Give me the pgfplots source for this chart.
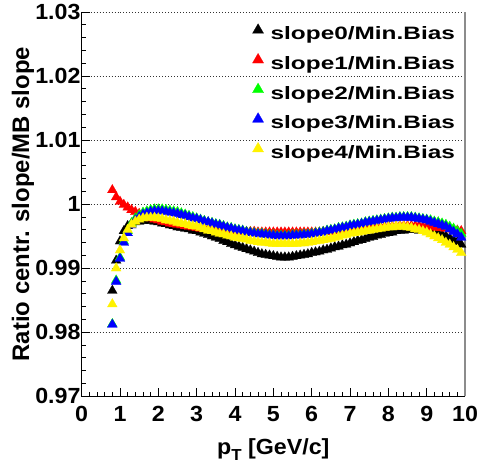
\documentclass[border=0pt]{standalone}
\usepackage{pgfplots}
\pgfplotsset{compat=1.18}
\usepackage{pgfplotstable}
\usepackage{fontspec}
\setmainfont{Liberation Sans}
\newfontfamily\tickfont{Liberation Sans}[FakeStretch=1.06]
\newfontfamily\legfont{Liberation Sans}[FakeStretch=1.36]

\pgfplotstableread{
pt  s0     s1     s2     s3     s4
0.8 0.9865 1.0022 0.9813 0.9812 0.9844
0.9 0.9912 1.0011 0.9881 0.9879 0.9900
1.0 0.9942 1.0004 0.9917 0.9915 0.9928
1.1 0.9958 0.9999 0.9942 0.9940 0.9947
1.2 0.9966 0.9995 0.9958 0.9955 0.9960
1.3 0.9970 0.9991 0.9970 0.9967 0.9968
1.4 0.9972 0.9988 0.9978 0.9975 0.9973
1.5 0.9973 0.9985 0.9983 0.9980 0.9976
1.6 0.9974 0.9982 0.9987 0.9984 0.9978
1.7 0.9974 0.9980 0.9989 0.9986 0.9979
1.8 0.9974 0.9978 0.9991 0.9988 0.9979
1.9 0.9973 0.9976 0.9992 0.9989 0.9979
2.0 0.9972 0.9975 0.9992 0.9989 0.9978
2.1 0.9970 0.9973 0.9992 0.9989 0.9977
2.2 0.9969 0.9972 0.9991 0.9988 0.9975
2.3 0.9967 0.9970 0.9990 0.9987 0.9974
2.4 0.9966 0.9969 0.9989 0.9986 0.9973
2.5 0.9964 0.9968 0.9988 0.9985 0.9971
2.6 0.9963 0.9967 0.9986 0.9983 0.9970
2.7 0.9962 0.9966 0.9984 0.9982 0.9969
2.8 0.9961 0.9965 0.9982 0.9980 0.9967
2.9 0.9959 0.9964 0.9980 0.9978 0.9966
3.0 0.9958 0.9963 0.9978 0.9977 0.9965
3.1 0.9956 0.9962 0.9976 0.9975 0.9963
3.2 0.9954 0.9962 0.9974 0.9973 0.9961
3.3 0.9952 0.9961 0.9972 0.9972 0.9959
3.4 0.9950 0.9960 0.9971 0.9970 0.9958
3.5 0.9948 0.9960 0.9969 0.9968 0.9956
3.6 0.9946 0.9959 0.9968 0.9967 0.9954
3.7 0.9943 0.9959 0.9966 0.9965 0.9953
3.8 0.9941 0.9958 0.9964 0.9963 0.9951
3.9 0.9938 0.9958 0.9963 0.9962 0.9950
4.0 0.9936 0.9958 0.9961 0.9960 0.9948
4.1 0.9934 0.9957 0.9960 0.9959 0.9947
4.2 0.9932 0.9957 0.9959 0.9958 0.9946
4.3 0.9930 0.9957 0.9957 0.9956 0.9945
4.4 0.9928 0.9957 0.9956 0.9955 0.9943
4.5 0.9926 0.9957 0.9955 0.9954 0.9942
4.6 0.9924 0.9956 0.9954 0.9953 0.9941
4.7 0.9922 0.9956 0.9954 0.9953 0.9940
4.8 0.9921 0.9956 0.9953 0.9952 0.9940
4.9 0.9920 0.9956 0.9952 0.9951 0.9939
5.0 0.9919 0.9956 0.9952 0.9951 0.9938
5.1 0.9918 0.9956 0.9951 0.9950 0.9938
5.2 0.9917 0.9956 0.9951 0.9950 0.9938
5.3 0.9917 0.9956 0.9951 0.9950 0.9938
5.4 0.9917 0.9956 0.9951 0.9950 0.9938
5.5 0.9918 0.9956 0.9952 0.9951 0.9938
5.6 0.9919 0.9956 0.9952 0.9951 0.9938
5.7 0.9920 0.9956 0.9952 0.9951 0.9939
5.8 0.9921 0.9956 0.9953 0.9952 0.9939
5.9 0.9922 0.9956 0.9953 0.9952 0.9940
6.0 0.9924 0.9956 0.9954 0.9953 0.9941
6.1 0.9925 0.9956 0.9955 0.9954 0.9942
6.2 0.9926 0.9956 0.9956 0.9955 0.9943
6.3 0.9928 0.9957 0.9957 0.9956 0.9944
6.4 0.9929 0.9957 0.9959 0.9958 0.9945
6.5 0.9931 0.9957 0.9960 0.9959 0.9946
6.6 0.9933 0.9958 0.9961 0.9960 0.9948
6.7 0.9934 0.9958 0.9963 0.9962 0.9949
6.8 0.9936 0.9958 0.9964 0.9963 0.9951
6.9 0.9937 0.9959 0.9965 0.9964 0.9952
7.0 0.9939 0.9959 0.9967 0.9966 0.9954
7.1 0.9941 0.9960 0.9968 0.9967 0.9955
7.2 0.9943 0.9960 0.9969 0.9968 0.9956
7.3 0.9944 0.9961 0.9970 0.9969 0.9957
7.4 0.9946 0.9961 0.9972 0.9971 0.9958
7.5 0.9948 0.9962 0.9973 0.9972 0.9959
7.6 0.9949 0.9963 0.9974 0.9973 0.9960
7.7 0.9951 0.9963 0.9975 0.9974 0.9961
7.8 0.9952 0.9964 0.9976 0.9975 0.9962
7.9 0.9954 0.9964 0.9977 0.9976 0.9963
8.0 0.9955 0.9965 0.9978 0.9977 0.9964
8.1 0.9956 0.9965 0.9979 0.9978 0.9964
8.2 0.9958 0.9965 0.9979 0.9978 0.9965
8.3 0.9959 0.9966 0.9980 0.9979 0.9965
8.4 0.9959 0.9966 0.9980 0.9979 0.9965
8.5 0.9960 0.9966 0.9980 0.9979 0.9964
8.6 0.9960 0.9966 0.9980 0.9979 0.9963
8.7 0.9960 0.9966 0.9979 0.9978 0.9961
8.8 0.9959 0.9966 0.9978 0.9977 0.9960
8.9 0.9959 0.9965 0.9977 0.9976 0.9958
9.0 0.9958 0.9965 0.9976 0.9975 0.9956
9.1 0.9957 0.9964 0.9975 0.9973 0.9953
9.2 0.9955 0.9964 0.9973 0.9971 0.9950
9.3 0.9954 0.9963 0.9972 0.9969 0.9947
9.4 0.9952 0.9963 0.9970 0.9967 0.9944
9.5 0.9950 0.9962 0.9968 0.9965 0.9940
9.6 0.9947 0.9961 0.9965 0.9961 0.9937
9.7 0.9944 0.9960 0.9962 0.9957 0.9933
9.8 0.9941 0.9959 0.9958 0.9953 0.9929
9.9 0.9937 0.9958 0.9954 0.9948 0.9924
}\data

\begin{document}
\begin{tikzpicture}
\path[use as bounding box] (-82pt,-66pt) rectangle (397pt,398pt);
\begin{axis}[
  at={(0pt,0pt)}, anchor=south west,
  scale only axis, width=385pt, height=386pt,
  xmin=0, xmax=10, ymin=0.97, ymax=1.03,
  xtick={0,1,2,3,4,5,6,7,8,9,10},
  ytick={0.97,0.98,0.99,1,1.01,1.02,1.03},
  yticklabels={0.97,0.98,0.99,1,1.01,1.02,1.03},
  minor x tick num=4, minor y tick num=4,
  tick align=inside, tick pos=left,
  major tick length=8pt, minor tick length=4pt,
  tick style={black, line width=0.9pt},
  axis line style={draw=none},
  clip=false,
  ymajorgrids,
  major y grid style={black!80, line width=0.9pt, dash pattern=on 1pt off 2pt},
  /pgf/number format/assume math mode=true,
  ticklabel style={font=\tickfont\bfseries\fontsize{22}{22}\selectfont},
  yticklabel style={anchor=east, inner sep=1pt},
  xticklabel style={anchor=north, inner sep=0pt, yshift=-10pt},
  xlabel={p\raisebox{-6pt}{\fontsize{16}{16}\selectfont T} [GeV/c]},
  xlabel style={at={(axis description cs:0.5,-0.1503)}, anchor=base, font=\tickfont\bfseries\fontsize{22}{22}\selectfont},
  ylabel={Ratio centr. slope/MB slope},
  ylabel style={at={(axis description cs:-0.1532,0.5)}, anchor=center, font=\bfseries\fontsize{24}{24}\selectfont},
  legend style={draw=none, fill=none, at={(rel axis cs:0.445,0.970)}, anchor=north west,
    inner sep=0pt, font=\legfont\bfseries\fontsize{18}{18}\selectfont,
    row sep=12pt, nodes={inner sep=0pt},
    /tikz/every odd column/.append style={column sep=7pt}},
  legend cell align=left,
  legend image code/.code={\draw[#1, mark size=6.5pt] plot coordinates {(0pt,4pt)};},
]
\addplot[only marks, mark=triangle*, mark size=5.7pt, color=black, mark options={line width=0.2pt}] table[x=pt,y=s0]{\data};
\addplot[only marks, mark=triangle*, mark size=5.7pt, color=red, mark options={line width=0.2pt}] table[x=pt,y=s1]{\data};
\addplot[only marks, mark=triangle*, mark size=5.7pt, color=green, mark options={line width=0.2pt}] table[x=pt,y=s2]{\data};
\addplot[only marks, mark=triangle*, mark size=5.7pt, color=blue, mark options={line width=0.2pt}] table[x=pt,y=s3]{\data};
\addplot[only marks, mark=triangle*, mark size=5.7pt, color=yellow, mark options={line width=0.2pt}] table[x=pt,y=s4]{\data};
\legend{slope0/Min.Bias, slope1/Min.Bias, slope2/Min.Bias, slope3/Min.Bias, slope4/Min.Bias}
\draw[black, line width=1.4pt] (rel axis cs:0,1) -- (rel axis cs:0,0) -- (rel axis cs:1,0);
\draw[black!45, line width=1.6pt] (rel axis cs:1,0) -- (rel axis cs:1,1);
\end{axis}
\end{tikzpicture}
\end{document}
